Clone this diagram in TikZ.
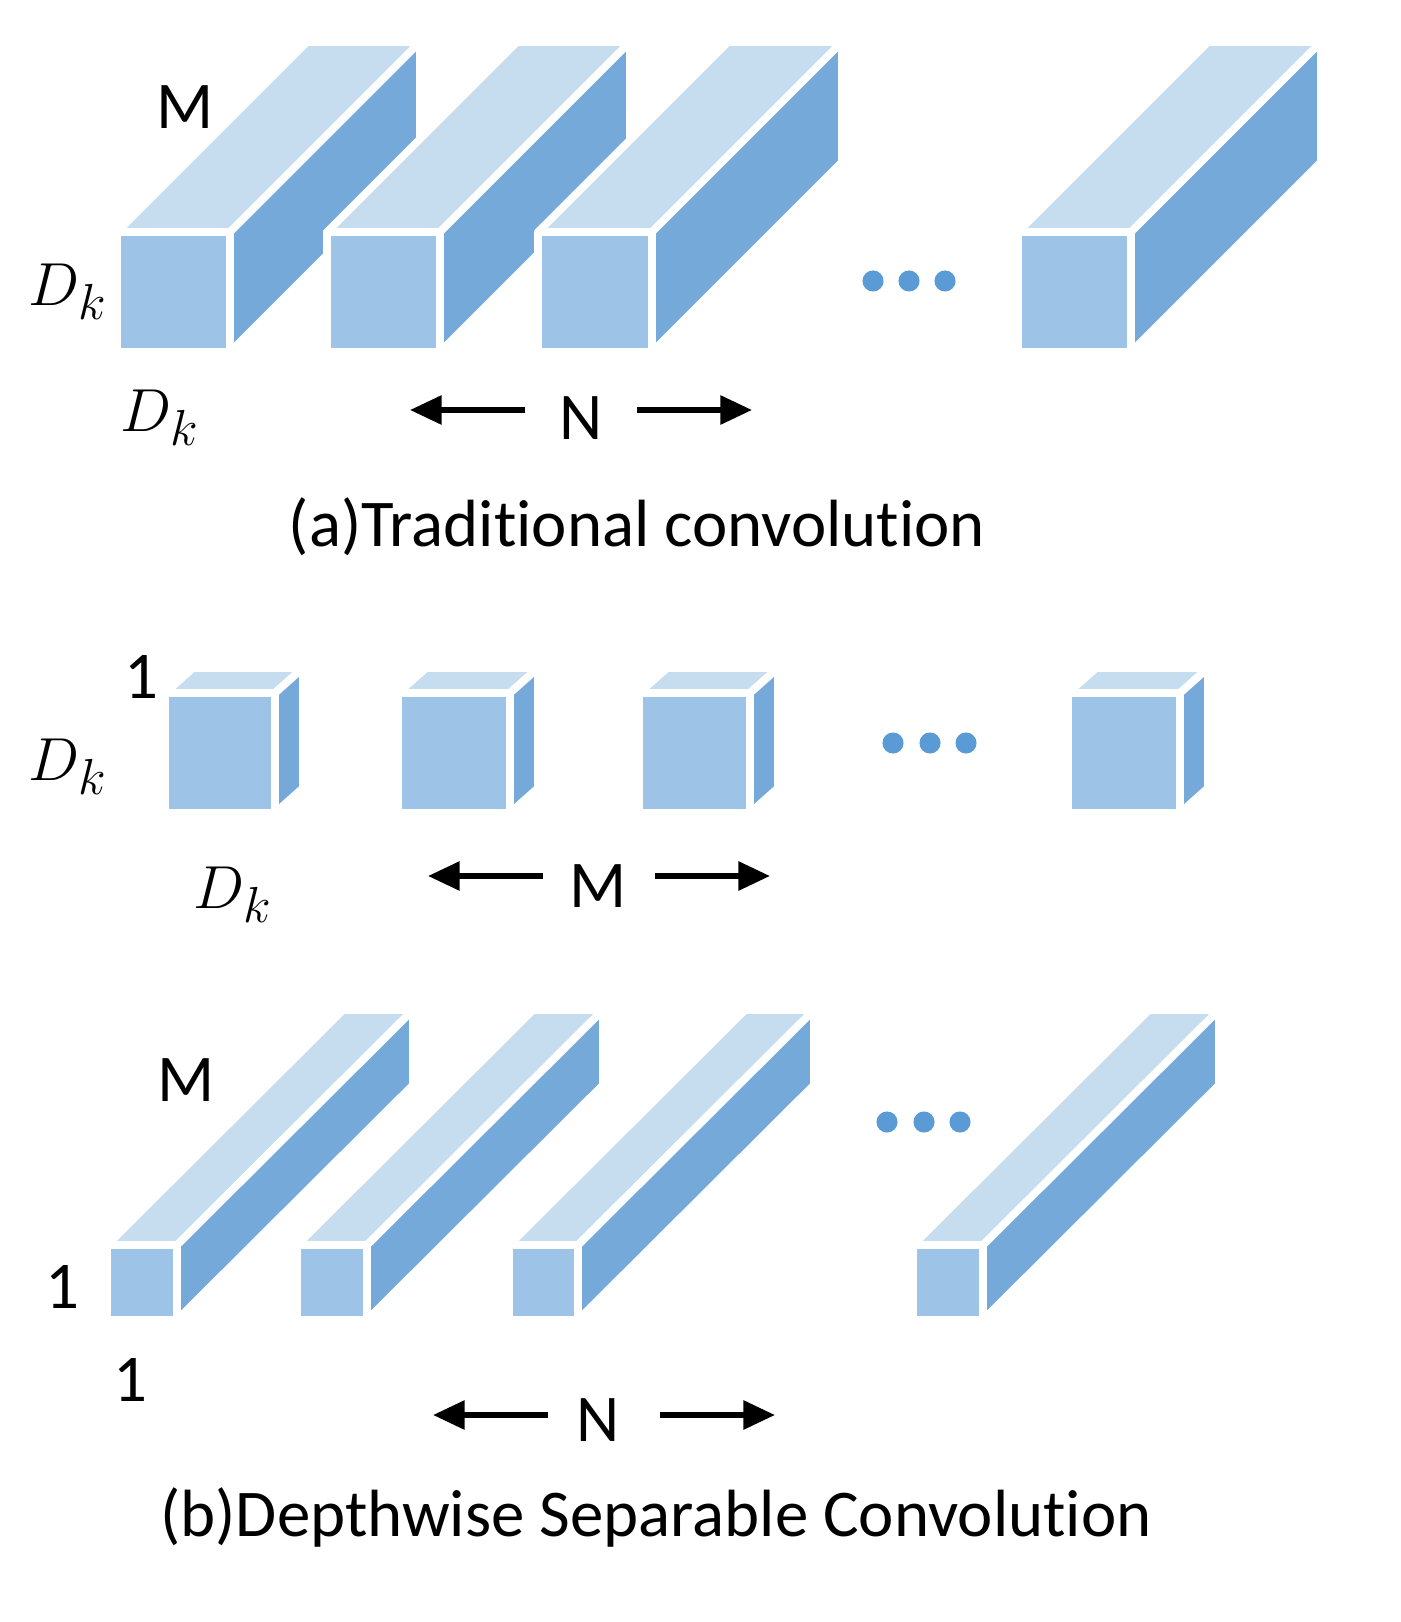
\documentclass[tikz,border=0pt]{standalone}
\usepackage{fontspec}
\setmainfont{Carlito}[RawFeature={-liga;-clig;-dlig}]
\newfontfamily\tms{Liberation Serif}
\usetikzlibrary{arrows.meta}
\definecolor{cfront}{HTML}{9DC3E6}
\definecolor{ctop}{HTML}{C6DCEF}
\definecolor{cside}{HTML}{74A9DA}
\definecolor{cdot}{HTML}{5B9BD5}
\tikzset{face/.style={draw=white,line width=2.2pt,line join=round},
 lbl/.style={font=\fontsize{19}{22}\selectfont},
 dk/.style={font=\tms\itshape\fontsize{19}{22}\selectfont},
 arr/.style={-{Triangle[length=9pt,width=8pt]},line width=1.6pt},
 dot/.style={circle,fill=cdot,inner sep=0pt,minimum size=6pt}}
\newcommand{\mybox}[6]{% x1 x2 ytop ybot dx dy
 \fill[ctop,face] (#1,#3)--(#2,#3)--(#2+#5,#3-#6)--(#1+#5,#3-#6)--cycle;
 \fill[cside,face] (#2,#3)--(#2+#5,#3-#6)--(#2+#5,#4-#6)--(#2,#4)--cycle;
 \fill[cfront,face] (#1,#3) rectangle (#2,#4);}
\begin{document}
\begin{tikzpicture}[x=0.01cm,y=-0.01cm]
\useasboundingbox (0,0) rectangle (1400,1622);
% (a)
\foreach \a/\b in {117/230,327/440,538/652,1018/1131}{\mybox{\a}{\b}{232}{352}{190}{190}}
\foreach \x [count=\i] in {873,909,945}{\node[dot] (da\i) at (\x,281) {};}
\node[lbl] (ma) at (185,107) {M};
\node[dk] (dka) at (68,292) {$D_k$};
\node[dk] (dkb) at (160,418) {$D_k$};
\node[lbl] (na) at (581,418) {N};
\coordinate (na1) at (410,410); \coordinate (na2) at (752,410);
\draw[arr] (525,410) -- (na1); \draw[arr] (637,410) -- (na2);
\node[lbl] (capa) at (637,527) {(a)Traditional convolution};
% (b) cubes
\foreach \a/\b in {165/275,398/510,639/750,1068/1180}{\mybox{\a}{\b}{693}{813}{28}{25}}
\foreach \x [count=\i] in {893,930,966}{\node[dot] (db\i) at (\x,743) {};}
\node[lbl] (oneb) at (141,677) {1};
\node[dk] (dkc) at (68,767) {$D_k$};
\node[dk] (dkd) at (233,895) {$D_k$};
\node[lbl] (mb) at (598,886) {M};
\coordinate (mb1) at (428,876); \coordinate (mb2) at (770,876);
\draw[arr] (543,876) -- (mb1); \draw[arr] (655,876) -- (mb2);
% (c)
\foreach \a/\b in {107/177,297/367,509/578,913/983}{\mybox{\a}{\b}{1245}{1320}{236}{235}}
\foreach \x [count=\i] in {887,924,960}{\node[dot] (dc\i) at (\x,1122) {};}
\node[lbl] (mc) at (186,1080) {M};
\node[lbl] (onec) at (62,1287) {1};
\node[lbl] (oned) at (130,1380) {1};
\node[lbl] (nc) at (598,1420) {N};
\coordinate (nc1) at (433,1415); \coordinate (nc2) at (775,1415);
\draw[arr] (548,1415) -- (nc1); \draw[arr] (660,1415) -- (nc2);
\node[lbl] (capb) at (656,1517) {(b)Depthwise Separable Convolution};
\end{tikzpicture}
\end{document}
